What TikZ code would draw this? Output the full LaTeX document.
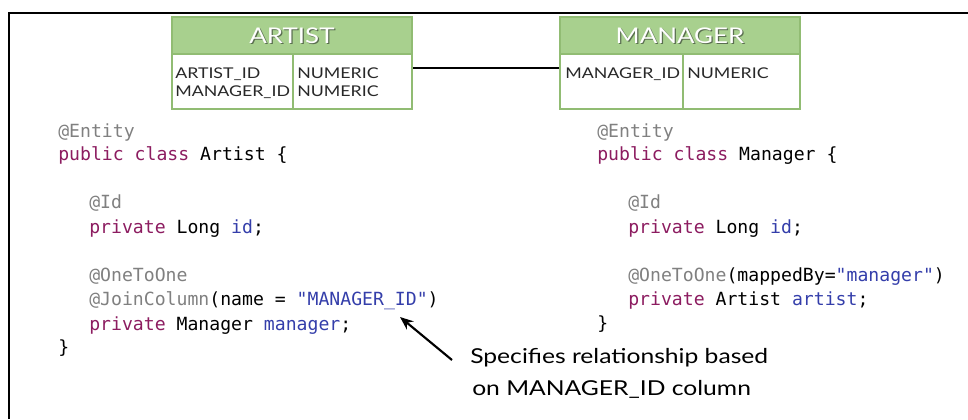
\documentclass[tikz,border=0pt]{standalone}
\usepackage{fontspec}
\setmainfont{Lato}
\newfontfamily\widesans[FakeStretch=1.2]{Lato}
\newfontfamily\codefont{DejaVu Sans Mono}
\usetikzlibrary{arrows.meta}

\definecolor{hdrfill}{RGB}{168,208,142}
\definecolor{hdrline}{RGB}{145,188,115}
\definecolor{kwcol}{RGB}{140,28,96}
\definecolor{annocol}{RGB}{128,128,128}
\definecolor{idcol}{RGB}{52,62,170}
\definecolor{shadowcol}{RGB}{90,110,80}
\definecolor{celltext}{RGB}{40,40,40}

\newcommand\kwd[1]{\textcolor{kwcol}{#1}}
\newcommand\ann[1]{\textcolor{annocol}{#1}}
\newcommand\idf[1]{\textcolor{idcol}{#1}}

\begin{document}
\begin{tikzpicture}[x=0.75pt,y=-0.75pt,
  code/.style={anchor=base west,inner sep=0,
    font=\codefont\fontsize{13.6}{16}\selectfont},
  cell/.style={anchor=base west,inner sep=0,text=celltext,
    font=\widesans\fontsize{11.1}{14}\selectfont},
  hdrtext/.style={anchor=base,inner sep=0,text=white,
    font=\widesans\fontsize{16.2}{18}\selectfont},
  hdrshadow/.style={anchor=base,inner sep=0,text=shadowcol,
    font=\widesans\fontsize{16.2}{18}\selectfont},
  tbl/.style={draw=hdrline,line width=1.5pt},
  note/.style={anchor=base west,inner sep=0,
    font=\widesans\fontsize{15.4}{18}\selectfont},
  frame/.style={line width=2pt,black}
]
\useasboundingbox (0,0) rectangle (968,419);

% outer frame (top and left edges)
\draw[frame] (9,419) -- (9,13) -- (968,13);

% ---- ARTIST table ----
\draw[tbl,fill=hdrfill] (172,17) rectangle (412,54);
\draw[tbl,fill=white] (172,54) rectangle (412,109);
\draw[tbl] (293,54) -- (293,109);
\node[hdrshadow] (artistSh) at (293.2,44.4) {ARTIST};
\node[hdrtext] (artistHd) at (292,43) {ARTIST};
\node[cell] (aid) at (175,78) {ARTIST\_ID};
\node[cell] (amid) at (175,96) {MANAGER\_ID};
\node[cell] (atyp1) at (297,78) {NUMERIC};
\node[cell] (atyp2) at (297,96) {NUMERIC};

% ---- MANAGER table ----
\draw[tbl,fill=hdrfill] (560,17) rectangle (800,54);
\draw[tbl,fill=white] (560,54) rectangle (800,109);
\draw[tbl] (683,54) -- (683,109);
\node[hdrshadow] (managerSh) at (681.2,44.4) {MANAGER};
\node[hdrtext] (managerHd) at (680,43) {MANAGER};
\node[cell] (mid) at (565,78) {MANAGER\_ID};
\node[cell] (mtyp) at (687,78) {NUMERIC};

% relation line between the tables
\coordinate (artistRight) at (413,68);
\coordinate (managerLeft) at (559,68);
\draw[line width=1pt] (artistRight) -- (managerLeft);

% ---- Artist entity source ----
\node[code] (l1) at (58,137) {\ann{@Entity}};
\node[code] (l2) at (58,160) {\kwd{public class} Artist \{};
\node[code] (l3) at (89,208) {\ann{@Id}};
\node[code] (l4) at (89,233) {\kwd{private} Long \idf{id};};
\node[code] (l5) at (89,281) {\ann{@OneToOne}};
\node[code] (l6) at (89,305) {\ann{@JoinColumn}(name = \idf{"MANAGER\_ID"})};
\node[code] (l7) at (89,330) {\kwd{private} Manager \idf{manager};};
\node[code] (l8) at (58,353) {\}};

% ---- Manager entity source ----
\node[code] (r1) at (597,137) {\ann{@Entity}};
\node[code] (r2) at (597,160) {\kwd{public class} Manager \{};
\node[code] (r3) at (628,208) {\ann{@Id}};
\node[code] (r4) at (628,233) {\kwd{private} Long \idf{id};};
\node[code] (r5) at (628,281) {\ann{@OneToOne}(mappedBy=\idf{"manager"})};
\node[code] (r6) at (628,305) {\kwd{private} Artist \idf{artist};};
\node[code] (r7) at (597,329) {\}};

% ---- annotation ----
\node[note] (noteA) at (470,363) {Specifies relationship based};
\node[note] (noteB) at (472,395) {on MANAGER\_ID column};
\coordinate (tail) at (452,360);
\coordinate (tip) at (400,317);
\draw[line width=1.6pt,-{Stealth[length=10pt,width=8pt]}] (tail) -- (tip);
\end{tikzpicture}
\end{document}
